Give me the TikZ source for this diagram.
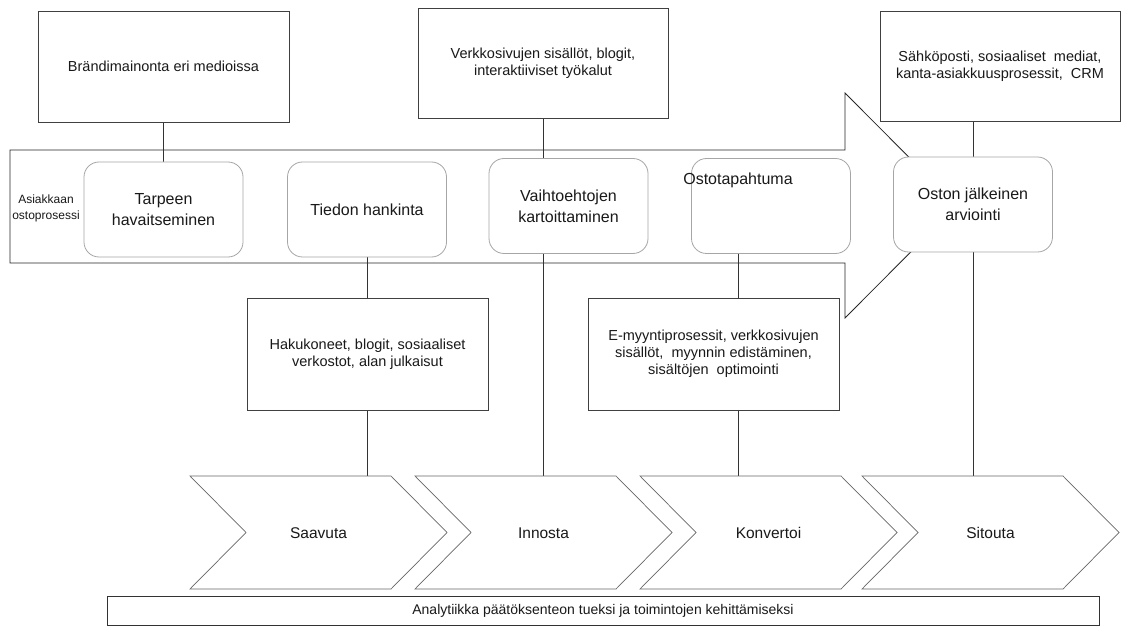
\documentclass[tikz,border=0pt]{standalone}
\usepackage{fontspec}
\setmainfont{Liberation Sans}
\pgfdeclarelayer{bg}
\pgfsetlayers{bg,main}
\begin{document}
\begin{tikzpicture}[x=1pt,y=-1pt,
  infobox/.style={draw=black!75, line width=0.8pt, fill=white, inner sep=0pt, outer sep=0pt, align=center, font=\fontsize{14.5}{17}\selectfont, text=black!90},
  stage/.style={draw=black!35, line width=0.8pt, rounded corners=15pt, fill=white, inner sep=0pt, outer sep=0pt, align=center, font=\fontsize{16}{21}\selectfont, text=black!90, minimum width=159pt, minimum height=95pt},
  conn/.style={draw=black!80, line width=0.8pt},
  chev/.style={draw=black!60, line width=0.7pt, fill=white},
  chevlabel/.style={font=\fontsize{15.5}{18}\selectfont, text=black!90},
  bigarrow/.style={draw=black!85, line width=0.8pt, fill=white}
]
\useasboundingbox (0,0) rectangle (1127,628);

% top boxes
\node[infobox, minimum width=251pt, minimum height=111pt] (b1) at (163.5,66.5) {Brändimainonta eri medioissa};
\node[infobox, minimum width=250pt, minimum height=110pt] (b2) at (543,63) {Verkkosivujen sisällöt, blogit,\\interaktiiviset työkalut};
\node[infobox, minimum width=240pt, minimum height=110pt] (b3) at (1000,66) {Sähköposti, sosiaaliset\ \ mediat,\\kanta-asiakkuusprosessit,\ \ CRM};

% big process arrow
\begin{pgfonlayer}{bg}
\draw[bigarrow] (10,150) -- (845,150) -- (845,93) -- (957,205.5) -- (845,318) -- (845,263) -- (10,263) -- cycle;
\end{pgfonlayer}
\node[align=center, font=\fontsize{12}{16}\selectfont, text=black!90] (asi) at (46,208) {Asiakkaan\\ostoprosessi};

% stages
\node[stage] (s1) at (163.5,209.5) {Tarpeen\\havaitseminen};
\node[stage] (s2) at (367,209.5) {Tiedon hankinta};
\node[stage] (s3) at (568.5,206) {Vaihtoehtojen\\kartoittaminen};
\node[stage] (s4) at (771,206) {};
\node[font=\fontsize{16}{21}\selectfont, text=black!90] (s4t) at (738,180) {Ostotapahtuma};
\node[stage] (s5) at (973,204.5) {Oston jälkeinen\\arviointi};

% lower boxes
\node[infobox, minimum width=241pt, minimum height=112pt] (h1) at (367.5,354) {Hakukoneet, blogit, sosiaaliset\\verkostot, alan julkaisut};
\node[infobox, minimum width=251pt, minimum height=112pt] (h2) at (713.5,354) {E-myyntiprosessit, verkkosivujen\\sisällöt,\ \ myynnin edistäminen,\\sisältöjen\ \ optimointi};

% chevrons
\foreach \x/\nm/\lab in {190/cv1/Saavuta, 415/cv2/Innosta, 640/cv3/Konvertoi, 862/cv4/Sitouta}{
  \draw[chev] (\x,476) -- (\x+201,476) -- (\x+257,532.5) -- (\x+201,589) -- (\x,589) -- (\x+56,532.5) -- cycle;
  \node[chevlabel] (\nm) at (\x+128.5,533) {\lab};
  \coordinate (\nm top) at (\x+128.5,476);
}

% bottom bar
\node[draw=black!80, line width=0.8pt, fill=white, inner sep=0pt, minimum width=992pt, minimum height=29pt, font=\fontsize{14}{17}\selectfont, text=black!90] (bar) at (603,610.5) {Analytiikka päätöksenteon tueksi ja toimintojen kehittämiseksi};

% connectors (behind)
\coordinate (x543) at (543,0);
\coordinate (x973) at (973,0);
\coordinate (x367) at (367,0);
\coordinate (x738) at (738,0);
\begin{pgfonlayer}{bg}
\draw[conn] (b1.south) -- (s1.north);
\draw[conn] (b2.south) -- (cv2top -| x543);
\draw[conn] (b3.south -| x973) -- (s5.north);
\draw[conn] (s5.south) -- (cv4top -| x973);
\draw[conn] (s2.south) -- (h1.north -| x367);
\draw[conn] (h1.south -| x367) -- (cv1top -| x367);
\draw[conn] (s4.south -| x738) -- (h2.north -| x738);
\draw[conn] (h2.south -| x738) -- (cv3top -| x738);
\end{pgfonlayer}
\end{tikzpicture}
\end{document}
